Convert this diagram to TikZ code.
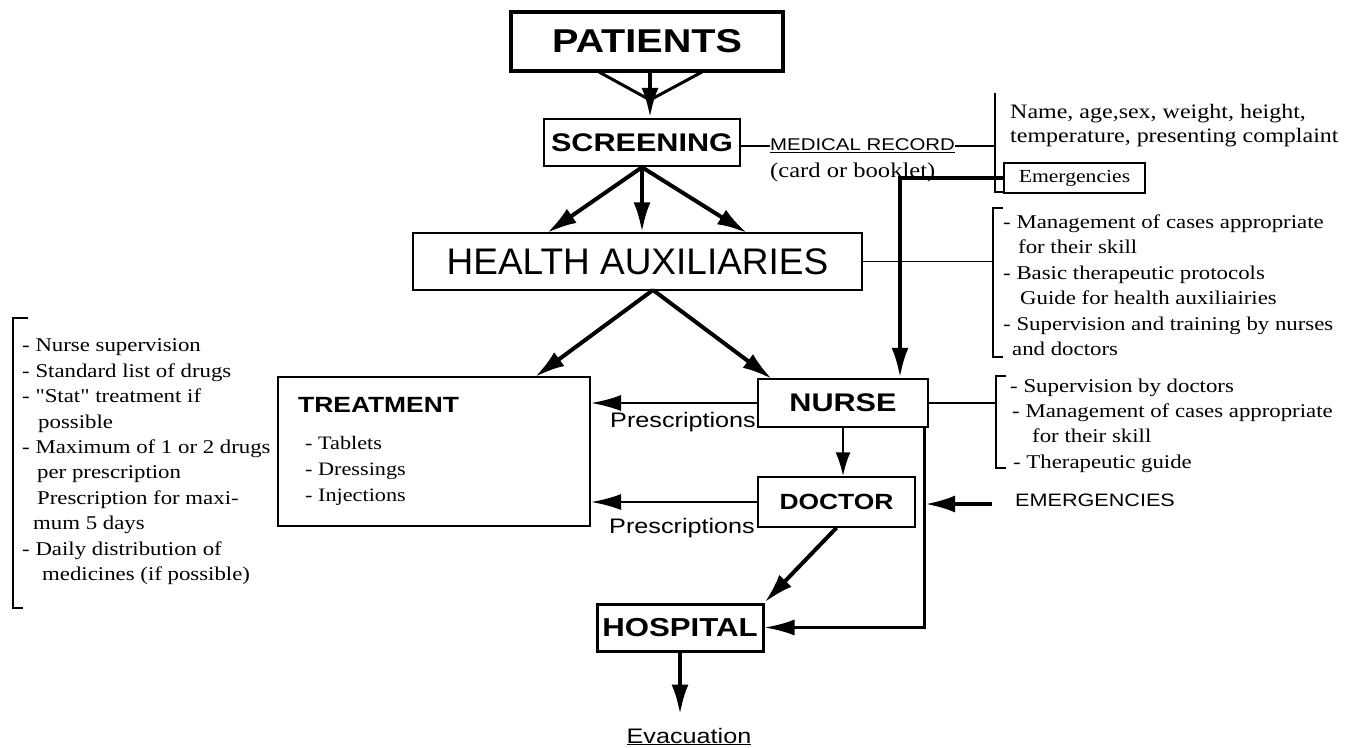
\documentclass[tikz,border=0pt]{standalone}
\usepackage{fontspec}
\setmainfont{Liberation Serif}
\newfontfamily\rmwide[FakeStretch=1.17]{Liberation Serif}
\newfontfamily\sfwide[FakeStretch=1.2]{Liberation Sans}
\newfontfamily\sfplain{Liberation Sans}
\usetikzlibrary{arrows.meta}
\tikzset{
  box/.style={draw,line width=2pt,inner sep=0pt},
  caps/.style={font=\sfwide\bfseries\fontsize{#1}{#1}\selectfont},
  label sf/.style={font=\sfwide\fontsize{#1}{#1}\selectfont,inner sep=0pt},
  note/.style={font=\rmwide\fontsize{19.5}{25.4}\selectfont,inner sep=0pt,align=left,anchor=north west},
  flow/.style={line width=4pt,-{Latex[length=30pt,width=17pt]}},
  presc/.style={line width=2.5pt,-{Latex[length=30pt,width=16pt]}},
  funnel/.style={line width=3pt},
  link/.style={line width=1.3pt},
  brace/.style={line width=2pt},
}
\begin{document}
\begin{tikzpicture}[x=1pt,y=-1pt]
\useasboundingbox (0,0) rectangle (1352,747);
% boxes
\node[box,line width=4pt,minimum width=272pt,minimum height=59pt,caps=33] (pat) at (647,41.5) {PATIENTS};
\node[box,line width=2.5pt,minimum width=196pt,minimum height=47pt,caps=25.5] (scr) at (642,142.5) {SCREENING};
\node[box,line width=1.5pt,minimum width=449pt,minimum height=57pt,font=\sfplain\fontsize{37}{37}\selectfont] (ha) at (637.5,261.5) {HEALTH AUXILIARIES};
\node[box,minimum width=312pt,minimum height=149pt] (treat) at (434,451.5) {};
\node[box,line width=2.5pt,minimum width=170pt,minimum height=48pt,caps=25.5] (nurse) at (843,403) {NURSE};
\node[box,line width=1.5pt,minimum width=157pt,minimum height=50pt,caps=22] (doc) at (836.5,502) {DOCTOR};
\node[box,line width=3pt,minimum width=166pt,minimum height=47pt,caps=26] (hosp) at (680,627.5) {HOSPITAL};
\node[box,minimum width=141pt,minimum height=30pt,font=\rmwide\fontsize{18.5}{20}\selectfont] (emg) at (1074.5,178) {Emergencies};
% texts
\node[caps=22,anchor=west,inner sep=0pt] (treattitle) at (298,405) {TREATMENT};
\node[note,font=\rmwide\fontsize{19}{26}\selectfont] (treatlist) at (305,436.4) {- Tablets\\- Dressings\\- Injections};
\node[label sf=17,anchor=west] (rec) at (770,146) {\underline{MEDICAL RECORD}};
\node[font=\rmwide\fontsize{21}{21}\selectfont,anchor=west,inner sep=0pt] (card) at (770,172) {(card or booklet)};
\node[note,font=\rmwide\fontsize{20.5}{24}\selectfont] (recinfo) at (1010,104) {Name, age,sex, weight, height,\\temperature, presenting complaint};
\node[note] (hainfo) at (1003,214.5) {- Management of cases appropriate\\
  \hspace*{15pt}for their skill\\
  - Basic therapeutic protocols\\
  \hspace*{17pt}Guide for health auxiliairies\\
  - Supervision and training by nurses\\
  \hspace*{9pt}and doctors};
\node[note] (nurseinfo) at (1010,378.4) {- Supervision by doctors\\
  \hspace*{2pt}- Management of cases appropriate\\
  \hspace*{22pt}for their skill\\
  \hspace*{3pt}- Therapeutic guide};
\node[note] (auxrules) at (22,338.8) {- Nurse supervision\\
  - Standard list of drugs\\
  - "Stat" treatment if\\
  \hspace*{16pt}possible\\
  - Maximum of 1 or 2 drugs\\
  \hspace*{15pt}per prescription\\
  \hspace*{15pt}Prescription for maxi-\\
  \hspace*{11pt}mum 5 days\\
  - Daily distribution of\\
  \hspace*{20pt}medicines (if possible)};
\node[label sf=21,anchor=west] (presc1) at (610,422) {Prescriptions};
\node[label sf=21,anchor=west] (presc2) at (609,528) {Prescriptions};
\node[label sf=18,anchor=west] (emtext) at (1015,500) {EMERGENCIES};
\node[label sf=21,anchor=base] (evac) at (689,743) {\underline{Evacuation}};
% connector points
\coordinate (funl) at (599,72);
\coordinate (funr) at (702,72);
\coordinate (funj) at (650,100);
\coordinate (hal) at (547,233);
\coordinate (har) at (747,233);
\coordinate (hab) at (653,290);
\coordinate (treattop) at (535,377);
\coordinate (nursetop) at (772,379);
\coordinate (emgdrop) at (900,178);
\coordinate (emstart) at (992,504);
\coordinate (emjoin) at (925,504);
\coordinate (rectop) at (995,93);
\coordinate (recbot) at (995,192);
\coordinate (hatop) at (993,208);
\coordinate (habot) at (993,357);
\coordinate (nbtop) at (996,376);
\coordinate (nbbot) at (996,468);
\coordinate (lbtop) at (13,318);
\coordinate (lbbot) at (13,608);
% flow
\draw[funnel] (funl) -- (funj) -- (funr);
\draw[flow] (funj |- pat.south) -- (funj |- scr.north);
\draw[flow] (scr.south) -- (hal);
\draw[flow] (scr.south) -- (scr.south |- ha.north);
\draw[flow] (scr.south) -- (har);
\draw[flow] (hab) -- (treattop);
\draw[flow] (hab) -- (nursetop);
\draw[link] (ha.east) -- (ha.east -| hatop);
\draw[flow] (emg.west) -- (emgdrop) -- (emgdrop |- nurse.north);
\draw[presc] (nurse.west) -- (nurse.west -| treat.east);
\draw[presc] (doc.west) -- (doc.west -| treat.east);
\draw[presc,-{Latex[length=24pt,width=15pt]}] (nurse.south) -- (nurse.south |- doc.north);
\draw[flow] (doc.south) -- (hosp.north east);
\draw[presc,line width=3pt] ([xshift=-5pt]nurse.south east) |- (hosp.east);
\draw[flow] (emstart) -- (emjoin);
\draw[flow] (hosp.south) -- ++(0,62);
% links and brackets
\draw[link] (scr.east |- rec.west) -- (rec.west);
\draw[link] (rec.east) -- (rec.east -| rectop);
\draw[link] (rectop) -- (recbot) -- ++(8,0);
\draw[link] (nurse.east) -- (nurse.east -| nbtop);
\draw[brace] ([xshift=10pt]hatop) -- (hatop) -- (habot) -- ++(10,0);
\draw[brace] ([xshift=10pt]nbtop) -- (nbtop) -- (nbbot) -- ++(10,0);
\draw[brace] ([xshift=15pt]lbtop) -- (lbtop) -- (lbbot) -- ++(10,0);
\end{tikzpicture}
\end{document}
